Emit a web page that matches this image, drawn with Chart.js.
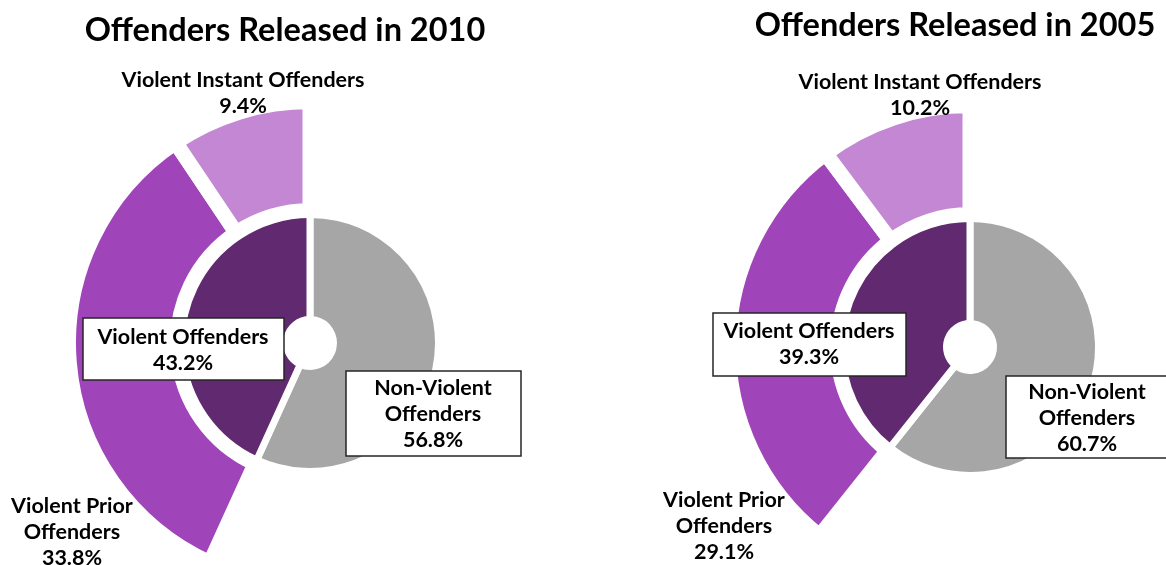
<!DOCTYPE html>
<html>
<head>
<meta charset="utf-8">
<script src="https://cdn.jsdelivr.net/npm/chart.js@4.4.1/dist/chart.umd.min.js"></script>
<style>
  html, body { margin: 0; padding: 0; background: #ffffff; }
  #wrap { position: relative; width: 1166px; height: 565px; overflow: hidden; }
  canvas { position: absolute; top: 0; }
  #chart2010 { left: 0; }
  #chart2005 { left: 583px; }
</style>
</head>
<body>
<div id="wrap">
  <canvas id="chart2010" width="583" height="565"></canvas>
  <canvas id="chart2005" width="583" height="565"></canvas>
</div>
<script>
// Share of released offenders (percent), one entry per release year
const years = ['2010', '2005'];
const nonViolent = [56.8, 60.7];
const violent = [43.2, 39.3];
const violentPrior = [33.8, 29.1];
const violentInstant = [9.4, 10.2];

// Label text, split into display lines
const nonViolentLines = ['Non-Violent', 'Offenders'];
const violentLines = ['Violent Offenders'];
const priorLines = ['Violent Prior', 'Offenders'];
const instantLines = ['Violent Instant Offenders'];

const COLORS = {
  nonViolent: '#a6a6a6',
  violent: '#612a70',
  prior: '#a044b9',
  instant: '#c387d3'
};

const TITLE_FONT = 'bold 32.5px Lato';
const LABEL_FONT = 'bold 21.5px Lato';

const pct = v => v.toFixed(1) + '%';

// Placement of the text blocks, relative to the centre of each ring chart
const LAYOUTS = [
  {
    padding: { left: 37, top: 121, right: 0, bottom: 0 },
    title: { dx: -25, dy: -302 },
    instant: { dx: -67, dy: -256 },
    violent: { dx: -127, dy: 1, box: [-227, -25, 201, 62] },
    nonViolent: { dx: 123, dy: 52, box: [36, 28, 175, 85] },
    prior: { dx: -238, dy: 170 }
  },
  {
    padding: { left: 191, top: 129, right: 0, bottom: 0 },
    title: { dx: -15, dy: -311 },
    instant: { dx: -50, dy: -258 },
    violent: { dx: -161, dy: -9, box: [-257, -34, 193, 63] },
    nonViolent: { dx: 117, dy: 52, box: [36, 29, 163, 82] },
    prior: { dx: -246, dy: 160 }
  }
];

// Draws the title and the slice captions on top of the rings
const sliceLabels = {
  id: 'sliceLabels',
  afterDatasetsDraw(chart, args, opts) {
    const ref = chart.getDatasetMeta(1).data[0];
    const cx = ref.x, cy = ref.y;
    const ctx = chart.ctx;
    ctx.save();
    ctx.textAlign = 'center';
    ctx.textBaseline = 'alphabetic';
    ctx.fillStyle = '#000000';
    ctx.font = TITLE_FONT;
    ctx.fillText(opts.title, cx + opts.layout.title.dx, cy + opts.layout.title.dy);

    for (const item of opts.items) {
      const pos = opts.layout[item.key];
      if (pos.box) {
        const [bx, by, bw, bh] = pos.box;
        ctx.fillStyle = '#ffffff';
        ctx.fillRect(cx + bx, cy + by, bw, bh);
        ctx.strokeStyle = '#262626';
        ctx.lineWidth = 1.5;
        ctx.strokeRect(cx + bx, cy + by, bw, bh);
      }
      ctx.fillStyle = '#000000';
      ctx.font = LABEL_FONT;
      item.lines.forEach((line, i) => {
        ctx.fillText(line, cx + pos.dx, cy + pos.dy + i * 26);
      });
    }
    ctx.restore();
  }
};

function buildChart(canvasId, i) {
  const layout = LAYOUTS[i];
  return new Chart(document.getElementById(canvasId), {
    type: 'doughnut',
    data: {
      labels: ['Non-Violent Offenders', 'Violent Prior Offenders', 'Violent Instant Offenders'],
      datasets: [
        {
          label: 'Violent offenders by history',
          data: [nonViolent[i], violentPrior[i], violentInstant[i]],
          backgroundColor: ['rgba(0,0,0,0)', COLORS.prior, COLORS.instant],
          borderColor: '#ffffff',
          borderWidth: 15
        },
        {
          label: 'Offender type',
          data: [nonViolent[i], violent[i]],
          backgroundColor: [COLORS.nonViolent, COLORS.violent],
          borderColor: '#ffffff',
          borderWidth: 7
        }
      ]
    },
    options: {
      responsive: false,
      animation: false,
      radius: 241.5,
      cutout: '9.73%',
      layout: { padding: layout.padding },
      events: [],
      plugins: {
        legend: { display: false },
        tooltip: { enabled: false },
        sliceLabels: {
          title: 'Offenders Released in ' + years[i],
          layout: layout,
          items: [
            { key: 'instant', lines: [...instantLines, pct(violentInstant[i])] },
            { key: 'prior', lines: [...priorLines, pct(violentPrior[i])] },
            { key: 'violent', lines: [...violentLines, pct(violent[i])] },
            { key: 'nonViolent', lines: [...nonViolentLines, pct(nonViolent[i])] }
          ]
        }
      }
    },
    plugins: [sliceLabels]
  });
}

function build() {
  buildChart('chart2010', 0);
  buildChart('chart2005', 1);
}

if (document.fonts && document.fonts.load) {
  Promise.all([
    document.fonts.load(LABEL_FONT),
    document.fonts.load(TITLE_FONT)
  ]).then(build, build);
} else {
  build();
}
</script>
</body>
</html>
